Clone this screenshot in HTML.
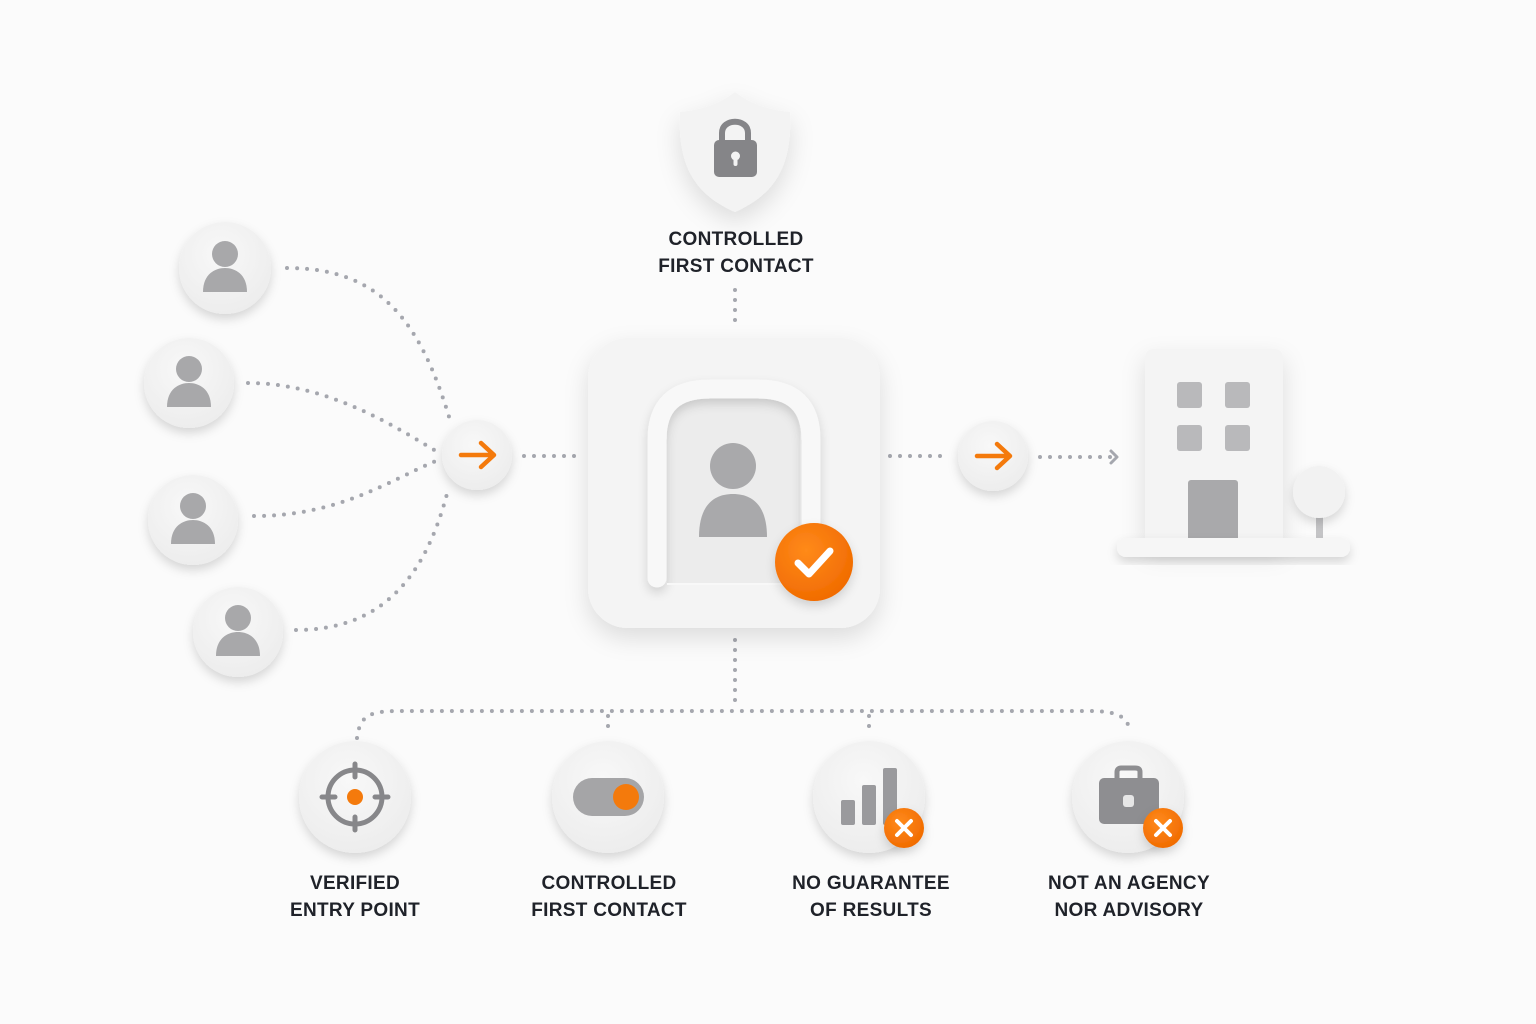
<!DOCTYPE html>
<html><head><meta charset="utf-8"><style>
html,body{margin:0;padding:0;background:#fbfbfb;}
svg{display:block}
text{font-family:"Liberation Sans",sans-serif;font-weight:bold;fill:#1f2229;font-size:19px;text-anchor:middle;letter-spacing:0.3px}
</style></head><body>
<svg width="1536" height="1024" viewBox="0 0 1536 1024" xmlns="http://www.w3.org/2000/svg">
<defs>
<filter id="sh" x="-30%" y="-30%" width="160%" height="170%"><feDropShadow dx="0" dy="5" stdDeviation="5" flood-color="#000" flood-opacity="0.15"/></filter>
<filter id="sh2" x="-30%" y="-30%" width="160%" height="170%"><feDropShadow dx="0" dy="10" stdDeviation="12" flood-color="#000" flood-opacity="0.12"/></filter>
<radialGradient id="cg" cx="45%" cy="35%" r="70%"><stop offset="0" stop-color="#f8f8f8"/><stop offset="1" stop-color="#ececec"/></radialGradient>
<radialGradient id="og" cx="40%" cy="35%" r="70%"><stop offset="0" stop-color="#ff8a1a"/><stop offset="1" stop-color="#f06a00"/></radialGradient>
<g id="person"><circle cx="0" cy="-14" r="13" fill="#a8a8aa"/><path d="M-22 24 C-22 6 -10 0 0 0 C10 0 22 6 22 24 Z" fill="#a8a8aa"/></g>
</defs>
<g fill="none" stroke="#a5a7ae" stroke-width="4" stroke-linecap="round" stroke-dasharray="0 10">
<path d="M287 268 C380 268 420 320 450 420"/>
<path d="M248 383 C330 383 400 430 436 451"/>
<path d="M254 516 C340 516 390 480 436 461"/>
<path d="M296 630 C380 630 425 580 448 490"/>
<path d="M524 456 L580 456"/>
<path d="M890 456 L950 456"/>
<path d="M1040 457 L1112 457"/>
<path d="M735 290 L735 328"/>
<path d="M735 640 L735 708"/>
<path d="M357 738 C360 715 370 711 400 711 L1090 711 C1120 711 1128 718 1130 732"/>
<path d="M608 716 L608 734"/>
<path d="M869 716 L869 734"/>
</g>
<path d="M1111 451 L1117 457 L1111 463" fill="none" stroke="#a5a7ae" stroke-width="3" stroke-linecap="round" stroke-linejoin="round"/>

<g filter="url(#sh)">
<circle cx="225" cy="268" r="46" fill="url(#cg)"/>
<circle cx="189" cy="383" r="45" fill="url(#cg)"/>
<circle cx="193" cy="520" r="45" fill="url(#cg)"/>
<circle cx="238" cy="632" r="45" fill="url(#cg)"/>
</g>
<use href="#person" x="225" y="268"/>
<use href="#person" x="189" y="383"/>
<use href="#person" x="193" y="520"/>
<use href="#person" x="238" y="632"/>

<g filter="url(#sh)"><circle cx="477" cy="455" r="35" fill="url(#cg)"/><circle cx="993" cy="456" r="35" fill="url(#cg)"/></g>
<g fill="none" stroke="#f47a0c" stroke-width="4.5" stroke-linecap="round" stroke-linejoin="round">
<path d="M461 455 L492 455 M481 443 L494 455 L481 467"/>
<path d="M977 456 L1008 456 M997 444 L1010 456 L997 468"/>
</g>

<path filter="url(#sh2)" d="M735 92 C752 105 770 110 790 112 C792 160 780 192 735 212 C690 192 678 160 680 112 C700 110 718 105 735 92 Z" fill="#f3f3f3"/>
<path d="M722 142 L722 133 C722 118 748 118 748 133 L748 142" fill="none" stroke="#858588" stroke-width="6"/>
<rect x="714" y="140" width="43" height="37" rx="5" fill="#858588"/>
<circle cx="735.5" cy="156" r="4.5" fill="#f3f3f3"/><rect x="733.5" y="156" width="4" height="10" rx="2" fill="#f3f3f3"/>
<text x="736" y="245">CONTROLLED</text>
<text x="736" y="272">FIRST CONTACT</text>

<rect filter="url(#sh2)" x="588" y="338" width="292" height="290" rx="40" fill="#f4f4f4"/>
<path d="M667 584 L667 435 C667 410 680 398 705 398 L760 398 C785 398 800 410 800 435 L800 584 Z" fill="#ececec"/>
<path d="M657 578 L657 440 C657 405 675 389 710 389 L758 389 C793 389 811 405 811 440 L811 560" fill="none" stroke="#f8f8f8" stroke-width="19" stroke-linecap="round" filter="url(#sh)"/>
<path d="M667 584 L800 584" stroke="#f8f8f8" stroke-width="2"/>
<circle cx="733" cy="466" r="23" fill="#a9a9ab"/>
<path d="M699 537 C699 505 714 494 733 494 C752 494 767 505 767 537 Z" fill="#a9a9ab"/>
<circle filter="url(#sh)" cx="814" cy="562" r="39" fill="url(#og)"/>
<path d="M798 563 L809 574 L830 551" fill="none" stroke="#fff" stroke-width="7" stroke-linecap="round" stroke-linejoin="round"/>

<rect filter="url(#sh2)" x="1145" y="349" width="138" height="195" rx="8" fill="#f4f4f4"/>
<rect x="1177" y="382" width="25" height="26" rx="3" fill="#b9b9bb"/>
<rect x="1225" y="382" width="25" height="26" rx="3" fill="#b9b9bb"/>
<rect x="1177" y="425" width="25" height="26" rx="3" fill="#b9b9bb"/>
<rect x="1225" y="425" width="25" height="26" rx="3" fill="#b9b9bb"/>
<rect x="1188" y="480" width="50" height="62" rx="3" fill="#a9a9ab"/>
<rect x="1316" y="505" width="7" height="36" fill="#c5c5c7"/>
<circle filter="url(#sh)" cx="1319" cy="492" r="26" fill="#f2f2f2"/>
<rect filter="url(#sh)" x="1117" y="538" width="233" height="19" rx="9" fill="#f6f6f6"/>

<g filter="url(#sh)">
<circle cx="355" cy="797" r="56" fill="url(#cg)"/>
<circle cx="608" cy="797" r="56" fill="url(#cg)"/>
<circle cx="869" cy="797" r="56" fill="url(#cg)"/>
<circle cx="1128" cy="797" r="56" fill="url(#cg)"/>
</g>
<g stroke="#87878a" stroke-width="5" fill="none" stroke-linecap="round">
<circle cx="355" cy="797" r="27"/>
<path d="M355 764 L355 777 M355 817 L355 830 M322 797 L335 797 M375 797 L388 797"/>
</g>
<circle cx="355" cy="797" r="8" fill="#f47a0c"/>
<rect x="573" y="778" width="71" height="38" rx="19" fill="#a5a5a7"/>
<circle cx="626" cy="797" r="13" fill="#f47a0c"/>
<rect x="841" y="800" width="14" height="25" rx="2" fill="#9a9a9d"/>
<rect x="862" y="785" width="14" height="40" rx="2" fill="#9a9a9d"/>
<rect x="883" y="768" width="14" height="57" rx="2" fill="#9a9a9d"/>
<circle filter="url(#sh)" cx="904" cy="828" r="20" fill="url(#og)"/>
<path d="M897 821 L911 835 M911 821 L897 835" stroke="#fff" stroke-width="4" stroke-linecap="round"/>
<path d="M1117 780 L1117 772 C1117 769 1119 768 1121 768 L1135 768 C1138 768 1140 769 1140 772 L1140 780" fill="none" stroke="#8e8e91" stroke-width="5"/>
<rect x="1099" y="778" width="60" height="46" rx="5" fill="#8e8e91"/>
<rect x="1123" y="795" width="11" height="12" rx="3" fill="#e6e6e6"/>
<circle filter="url(#sh)" cx="1163" cy="828" r="20" fill="url(#og)"/>
<path d="M1156 821 L1170 835 M1170 821 L1156 835" stroke="#fff" stroke-width="4" stroke-linecap="round"/>

<text x="355" y="889">VERIFIED</text><text x="355" y="916">ENTRY POINT</text>
<text x="609" y="889">CONTROLLED</text><text x="609" y="916">FIRST CONTACT</text>
<text x="871" y="889">NO GUARANTEE</text><text x="871" y="916">OF RESULTS</text>
<text x="1129" y="889">NOT AN AGENCY</text><text x="1129" y="916">NOR ADVISORY</text>
</svg>
</body></html>
